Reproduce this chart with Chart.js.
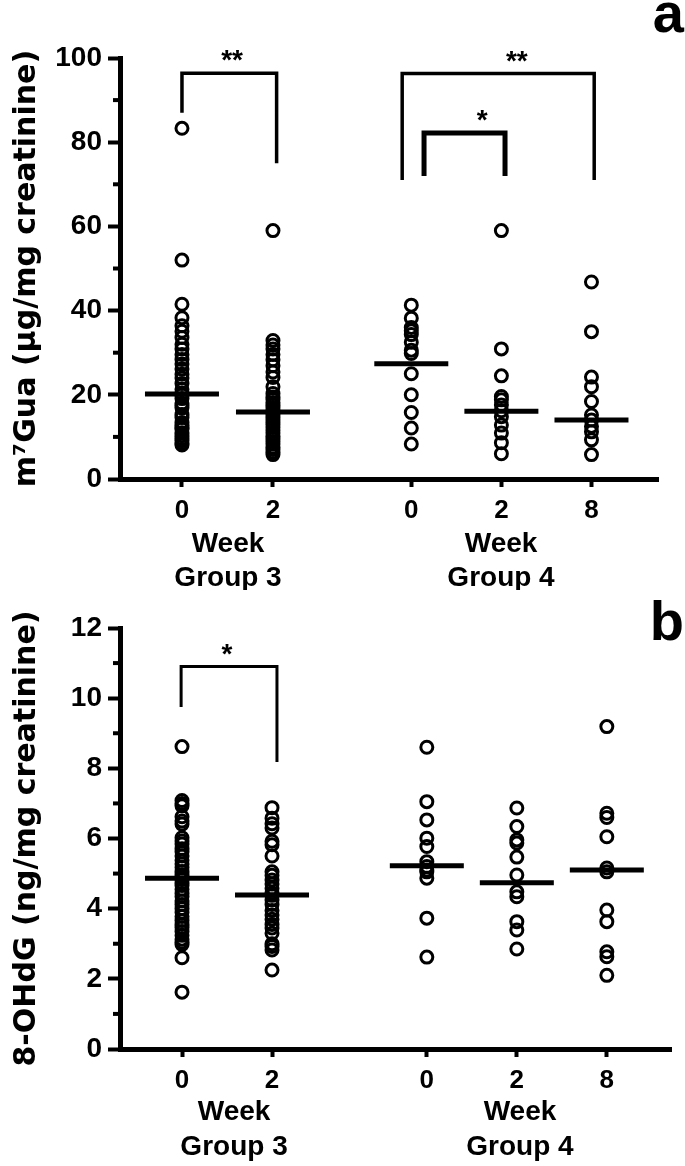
<!DOCTYPE html>
<html>
<head>
<meta charset="utf-8">
<script src="https://cdn.jsdelivr.net/npm/chart.js@4.4.0/dist/chart.umd.min.js"></script>
<style>
	body { margin: 0; background: #fff; }
	canvas { display: block; }
</style>
</head>
<body>
<canvas id="panelA" width="685" height="590"></canvas>
<canvas id="panelB" width="685" height="576"></canvas>
<script>
// Tick labels under each column of dots
const weekLabels = ['0', '2', '0', '2', '8'];
const groupNames = ['Group 3', 'Group 4'];

// Panel a - m7Gua (ug/mg creatinine)
const guaG3W0 = [83.3, 52.0, 41.5, 38.3, 36.4, 35.1, 33.6, 32.0, 30.9, 29.6, 28.4, 27.3, 26.1, 24.9, 24.0, 22.7, 21.3, 20.4, 20.0, 19.1, 18.0, 17.5, 16.9, 15.3, 14.6, 13.4, 12.8, 12.2, 11.9, 11.0, 10.3, 9.6, 9.1, 8.5, 8.1];
const guaG3W2 = [59.0, 32.9, 31.8, 30.9, 29.6, 28.3, 26.9, 25.4, 24.1, 21.9, 20.3, 19.5, 18.9, 18.2, 17.6, 17.0, 16.4, 15.9, 15.4, 14.8, 14.1, 13.5, 12.9, 12.3, 11.6, 10.9, 10.2, 9.6, 8.9, 8.3, 7.6, 7.0, 6.4, 5.8];
const guaG4W0 = [41.3, 38.2, 36.0, 35.2, 34.3, 32.5, 30.6, 29.8, 25.0, 20.0, 15.8, 12.1, 8.3];
const guaG4W2 = [59.0, 30.9, 24.5, 19.6, 18.8, 17.6, 16.2, 14.8, 12.8, 10.9, 8.6, 6.0];
const guaG4W8 = [46.8, 35.0, 24.2, 21.9, 18.4, 15.2, 14.0, 12.5, 11.2, 9.3, 5.8];
const guaMedians = [20.2, 15.9, 27.4, 16.1, 14.0];
const guaTicks = [0, 20, 40, 60, 80, 100];
const guaBrackets = [
	{ from: 1.0, to: 2.04, top: 96.4, leftEnd: 87, rightEnd: 75, mark: '**', markAt: 1.55 },
	{ from: 3.42, to: 5.53, top: 96.3, leftEnd: 71, rightEnd: 71, mark: '**', markAt: 4.68 },
	{ from: 3.66, to: 4.55, top: 82.2, leftEnd: 72, rightEnd: 72, mark: '*', markAt: 4.30 }
];

// Panel b - 8-OHdG (ng/mg creatinine)
const ohdgG3W0 = [8.62, 7.08, 7.0, 6.93, 6.62, 6.5, 6.41, 6.02, 5.93, 5.84, 5.71, 5.62, 5.5, 5.38, 5.27, 5.18, 5.06, 4.97, 4.9, 4.83, 4.74, 4.66, 4.55, 4.43, 4.35, 4.22, 4.12, 4.0, 3.9, 3.78, 3.66, 3.55, 3.46, 3.35, 3.24, 3.13, 3.05, 2.98, 2.6, 1.62];
const ohdgG3W2 = [6.88, 6.58, 6.42, 6.3, 5.92, 5.82, 5.5, 5.05, 4.95, 4.82, 4.7, 4.58, 4.45, 4.38, 4.25, 4.12, 3.95, 3.82, 3.7, 3.55, 3.45, 3.3, 3.0, 2.92, 2.82, 2.25];
const ohdgG4W0 = [8.6, 7.05, 6.53, 6.01, 5.77, 5.34, 5.2, 5.1, 5.05, 4.87, 3.73, 2.62];
const ohdgG4W2 = [6.87, 6.34, 5.96, 5.87, 5.47, 4.96, 4.48, 4.34, 3.63, 3.39, 2.85];
const ohdgG4W8 = [9.19, 6.72, 6.6, 6.05, 5.16, 5.05, 3.96, 3.63, 2.77, 2.63, 2.1];
const ohdgMedians = [4.87, 4.39, 5.22, 4.74, 5.1];
const ohdgTicks = [0, 2, 4, 6, 8, 10, 12];
const ohdgBrackets = [
	{ from: 0.99, to: 2.055, top: 10.9, leftEnd: 9.75, rightEnd: 8.18, mark: '*', markAt: 1.5 }
];

const FONT = '"Liberation Sans", Arial, sans-serif';

// brackets, minor ticks, Week/Group labels and the panel letter
function makeExtras(spec) {
	return {
		id: 'extras',
		afterDraw(chart) {
			const ctx = chart.ctx;
			const xs = chart.scales.x;
			const ys = chart.scales.y;
			const left = chart.chartArea.left;
			ctx.save();
			ctx.strokeStyle = '#000';
			ctx.fillStyle = '#000';

			ctx.lineWidth = 4;
			for (var i = 0; i < spec.ticks.length - 1; i++) {
				const py = ys.getPixelForValue((spec.ticks[i] + spec.ticks[i + 1]) / 2);
				ctx.beginPath();
				ctx.moveTo(left - 7, py);
				ctx.lineTo(left, py);
				ctx.stroke();
			}

			spec.brackets.forEach(function (b, i) {
				const x1 = xs.getPixelForValue(b.from);
				const x2 = xs.getPixelForValue(b.to);
				const top = ys.getPixelForValue(b.top);
				ctx.lineWidth = spec.bracketWidths[i];
				ctx.beginPath();
				ctx.moveTo(x1, ys.getPixelForValue(b.leftEnd));
				ctx.lineTo(x1, top);
				ctx.lineTo(x2, top);
				ctx.lineTo(x2, ys.getPixelForValue(b.rightEnd));
				ctx.stroke();
				ctx.font = 'bold 28px ' + FONT;
				ctx.textAlign = 'center';
				ctx.textBaseline = 'alphabetic';
				ctx.fillText(b.mark, xs.getPixelForValue(b.markAt), top - 4);
			});

			ctx.font = 'bold 28px ' + FONT;
			ctx.textAlign = 'center';
			ctx.textBaseline = 'alphabetic';
			groupNames.forEach(function (name, i) {
				const px = xs.getPixelForValue(spec.groupCenters[i]);
				ctx.fillText('Week', px, spec.weekY);
				ctx.fillText(name, px, spec.groupY);
			});

			ctx.font = 'bold 56px ' + FONT;
			ctx.textAlign = 'right';
			ctx.fillText(spec.letter, 684, spec.letterY);
			ctx.restore();
		}
	};
}

function makePanel(id, spec) {
	const datasets = [];
	spec.columns.forEach(function (vals, i) {
		datasets.push({
			data: vals.map((v) => ({ x: spec.slots[i], y: v })),
			pointStyle: 'circle',
			pointRadius: 6,
			pointBorderWidth: 3,
			pointBorderColor: '#000',
			pointBackgroundColor: 'rgba(0,0,0,0)'
		});
	});
	datasets.push({
		data: spec.medians.map((v, i) => ({ x: spec.slots[i], y: v })),
		pointStyle: 'line',
		pointRadius: 37,
		pointBorderWidth: 5,
		pointBorderColor: '#000'
	});

	new Chart(document.getElementById(id), {
		type: 'scatter',
		data: { datasets: datasets },
		options: {
			responsive: false,
			animation: false,
			events: [],
			layout: { autoPadding: false, padding: { left: 0, top: spec.top, right: spec.right, bottom: 0 } },
			plugins: { legend: { display: false }, tooltip: { enabled: false } },
			scales: {
				x: {
					type: 'linear',
					min: spec.xMin,
					max: spec.xMax,
					afterBuildTicks: (s) => { s.ticks = spec.slots.map((v) => ({ value: v })); },
					afterFit: (s) => {
						s.height = spec.xHeight;
						s.paddingLeft = 0;
						s.paddingRight = 0;
					},
					border: { display: true, color: '#000', width: 5 },
					grid: { drawOnChartArea: false, drawTicks: true, tickLength: 8, tickWidth: 4, tickColor: '#000', color: '#000' },
					ticks: {
						autoSkip: false,
						maxRotation: 0,
						padding: 8,
						color: '#000',
						font: { family: FONT, weight: 'bold', size: 26 },
						callback: (v, i) => weekLabels[i]
					}
				},
				y: {
					min: 0,
					max: spec.ticks[spec.ticks.length - 1],
					afterBuildTicks: (s) => { s.ticks = spec.ticks.map((v) => ({ value: v })); },
					afterFit: (s) => { s.width = 120; },
					border: { display: true, color: '#000', width: 5 },
					grid: { drawOnChartArea: false, drawTicks: true, tickLength: 12, tickWidth: 4, tickColor: '#000', color: '#000' },
					ticks: {
						padding: 6,
						color: '#000',
						font: { family: FONT, weight: 'bold', size: 28 }
					},
					title: {
						display: true,
						text: spec.yTitle,
						color: '#000',
						font: { family: '"DejaVu Sans", Verdana, sans-serif', weight: 'bold', size: 30 },
						padding: { top: 9, bottom: 0 }
					}
				}
			}
		},
		plugins: [makeExtras(spec)]
	});
}

makePanel('panelA', {
	columns: [guaG3W0, guaG3W2, guaG4W0, guaG4W2, guaG4W8],
	medians: guaMedians,
	ticks: guaTicks,
	brackets: guaBrackets,
	bracketWidths: [3.5, 3.5, 5],
	slots: [1, 2, 3.52, 4.51, 5.5],
	xMin: 0.319,
	xMax: 6.231,
	top: 58,
	right: 27,
	xHeight: 111,
	groupCenters: [1.506, 4.506],
	weekY: 552,
	groupY: 586,
	letter: 'a',
	letterY: 32,
	yTitle: 'm\u2077Gua (\u00b5g/mg creatinine)'
});

makePanel('panelB', {
	columns: [ohdgG3W0, ohdgG3W2, ohdgG4W0, ohdgG4W2, ohdgG4W8],
	medians: ohdgMedians,
	ticks: ohdgTicks,
	brackets: ohdgBrackets,
	bracketWidths: [3],
	slots: [1, 2, 3.72, 4.72, 5.72],
	xMin: 0.311,
	xMax: 6.433,
	top: 38,
	right: 14,
	xHeight: 117,
	groupCenters: [1.578, 4.755],
	weekY: 530,
	groupY: 565,
	letter: 'b',
	letterY: 50,
	yTitle: '8-OHdG (ng/mg creatinine)'
});
</script>
</body>
</html>
